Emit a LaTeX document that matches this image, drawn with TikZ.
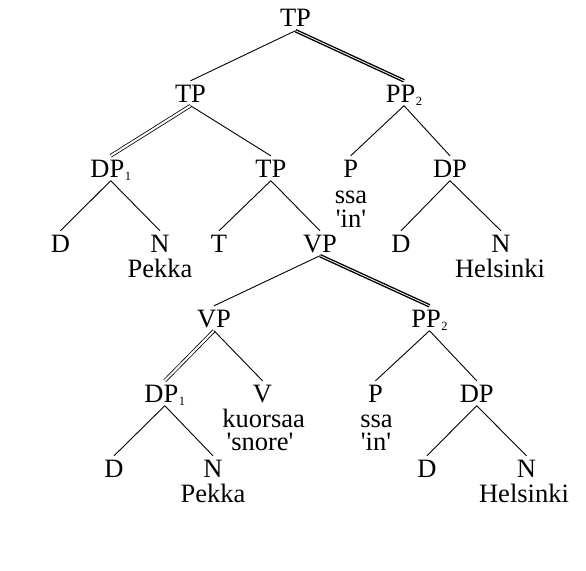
\documentclass[tikz,border=0pt]{standalone}
\usepackage{fontspec}
\setmainfont{Liberation Serif}
\font\qf="Liberation Serif" at 26.5pt
\newcommand{\sbs}[1]{\hspace{0.5pt}\raisebox{-3pt}{\fontsize{12.5}{12.5}\selectfont #1}}
\begin{document}
\begin{tikzpicture}[x=1pt,y=-1pt,
  cat/.style={font=\fontsize{26.5}{30}\selectfont, anchor=base, inner xsep=1pt, inner ysep=3.5pt, text height=17.5pt, text depth=0pt},
  lex/.style={font=\fontsize{26.5}{30}\selectfont, anchor=base, inner sep=0pt},
  gl/.style={font=\qf, anchor=base, inner sep=0pt},
  br/.style={line width=0.9pt},
  dbl/.style={line width=0.8pt, double distance=2pt},
  hdbl/.style={line width=1.4pt, double distance=0.8pt}]
\useasboundingbox (0,0) rectangle (586,570);
\node[cat] (tp0) at (295.5,27) {TP};
\node[cat] (tp1) at (190.5,102) {TP};
\node[cat] (pp1) at (404,102) {PP\sbs{2}};
\node[cat] (dp2) at (110.7,177) {DP\sbs{1}};
\node[cat] (tp2) at (270.8,177) {TP};
\node[cat] (p2) at (350.7,177) {P};
\node[lex] (ssa2) at (351,203) {ssa};
\node[gl] (in2) at (351,227) {'in'};
\node[cat] (dpr2) at (450,177) {DP};
\node[cat] (d3) at (60.5,252) {D};
\node[cat] (n3) at (160,252) {N};
\node[lex] (pek3) at (160,277) {Pekka};
\node[cat] (t3) at (219,252) {T};
\node[cat] (vp3) at (320,252) {VP};
\node[cat] (dr3) at (401,252) {D};
\node[cat] (nr3) at (501,252) {N};
\node[lex] (hel3) at (500,277) {Helsinki};
\node[cat] (vp4) at (214,327) {VP};
\node[cat] (pp4) at (429.5,327) {PP\sbs{2}};
\node[cat] (dp5) at (164.8,402) {DP\sbs{1}};
\node[cat] (v5) at (262.5,402) {V};
\node[lex] (kuo5) at (263.7,427) {kuorsaa};
\node[gl] (sno5) at (260,450) {'snore'};
\node[cat] (p5) at (375.5,402) {P};
\node[lex] (ssa5) at (376.5,427) {ssa};
\node[gl] (in5) at (376,450) {'in'};
\node[cat] (dpr5) at (476.7,402) {DP};
\node[cat] (d6) at (114,477) {D};
\node[cat] (n6) at (213,477) {N};
\node[lex] (pek6) at (213,502) {Pekka};
\node[cat] (dr6) at (427,477) {D};
\node[cat] (nr6) at (526.5,477) {N};
\node[lex] (hel6) at (524,502) {Helsinki};
\draw[br] (tp0.south) -- (tp1.north);
\draw[hdbl] (tp0.south) -- (pp1.north);
\draw[dbl] (tp1.south) -- (dp2.north);
\draw[br] (tp1.south) -- (tp2.north);
\draw[br] (pp1.south) -- (p2.north);
\draw[br] (pp1.south) -- (dpr2.north);
\draw[br] (dp2.south) -- (d3.north);
\draw[br] (dp2.south) -- (n3.north);
\draw[br] (tp2.south) -- (t3.north);
\draw[br] (tp2.south) -- (vp3.north);
\draw[br] (dpr2.south) -- (dr3.north);
\draw[br] (dpr2.south) -- (nr3.north);
\draw[br] (vp3.south) -- (vp4.north);
\draw[hdbl] (vp3.south) -- (pp4.north);
\draw[dbl] (vp4.south) -- (dp5.north);
\draw[br] (vp4.south) -- (v5.north);
\draw[br] (pp4.south) -- (p5.north);
\draw[br] (pp4.south) -- (dpr5.north);
\draw[br] (dp5.south) -- (d6.north);
\draw[br] (dp5.south) -- (n6.north);
\draw[br] (dpr5.south) -- (dr6.north);
\draw[br] (dpr5.south) -- (nr6.north);
\end{tikzpicture}
\end{document}
